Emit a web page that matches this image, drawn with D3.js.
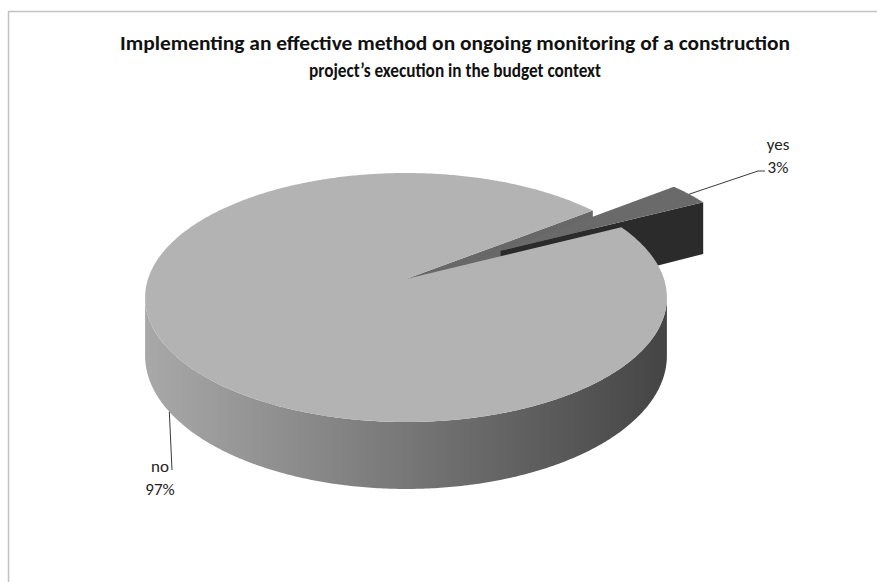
<!DOCTYPE html>
<html>
<head>
<meta charset="utf-8">
<script src="https://cdn.jsdelivr.net/npm/d3@7"></script>
<style>
  html, body { margin: 0; padding: 0; background: #fff; }
  svg { display: block; }
</style>
</head>
<body>
<svg id="chart" width="877" height="582"></svg>
<script>
// Survey answers
const categories = ["yes", "no"];
const values = [3, 97];
const titleLines = [
  "Implementing an effective method on ongoing monitoring of a construction",
  "project\u2019s execution in the budget context"
];

const svg = d3.select("#chart");
const W = 877, H = 582;

// chart frame
svg.append("rect")
  .attr("x", 8.5).attr("y", 11.5)
  .attr("width", W).attr("height", H)
  .attr("fill", "#fff")
  .attr("stroke", "#c2c2c2").attr("stroke-width", 1.5);

// title
const titleFont = "Carlito, Calibri, Lato, 'Liberation Sans', sans-serif";
const titleWidths = [670, 292];
svg.append("g").selectAll("text").data(titleLines).join("text")
  .attr("x", 455)
  .attr("y", (d, i) => 50 + i * 27)
  .attr("text-anchor", "middle")
  .attr("font-family", titleFont)
  .attr("font-weight", "bold")
  .attr("font-size", 19.5)
  .attr("fill", "#111")
  .attr("textLength", (d, i) => titleWidths[i])
  .attr("lengthAdjust", "spacingAndGlyphs")
  .text(d => d);

// ---- 3D pie projection ----
// a unit disc seen in perspective: w grows with depth (Y toward the back)
const cx = 406, cy = 279;
const persp = 0.1486;
const xScale = d3.scaleLinear().domain([-1, 1]).range([cx - 258, cx + 258]);
const yScale = d3.scaleLinear().domain([-1, 1]).range([cy + 121.75, cy - 121.75]);
const thickness = 57;
function proj(X, Y, down) {
  const w = 1 + persp * Y;
  return [xScale(X / w), yScale(Y / w) + (down ? thickness / w : 0)];
}

// d3.pie angles run clockwise from 12 o'clock; convert to math angle (ccw from +X)
const pie = d3.pie().sort(null).value(d => d)
  .startAngle(52.2 * Math.PI / 180)
  .endAngle(52.2 * Math.PI / 180 + 2 * Math.PI);
const arcs = pie(values);
const toMath = a => Math.PI / 2 - a;

const explode = [0.45, 0];
const slices = arcs.map((a, i) => {
  const t0 = toMath(a.endAngle), t1 = toMath(a.startAngle); // t0 < t1
  const mid = (t0 + t1) / 2;
  return {
    name: categories[i], value: values[i], t0, t1, mid,
    ox: explode[i] * Math.cos(mid), oy: explode[i] * Math.sin(mid)
  };
});
const yes = slices[0], no = slices[1];

const line = d3.line();
function rim(s, ta, tb, down, n) {
  const pts = [];
  n = n || Math.max(2, Math.ceil(Math.abs(tb - ta) / 0.01));
  for (let j = 0; j <= n; j++) {
    const t = ta + (tb - ta) * j / n;
    pts.push(proj(s.ox + Math.cos(t), s.oy + Math.sin(t), down));
  }
  return pts;
}
function topFace(s) {
  return line([proj(s.ox, s.oy, false), ...rim(s, s.t0, s.t1, false), proj(s.ox, s.oy, false)]) + "Z";
}
function radialFace(s, t) {
  const a = proj(s.ox, s.oy, false), b = proj(s.ox + Math.cos(t), s.oy + Math.sin(t), false);
  const c = proj(s.ox + Math.cos(t), s.oy + Math.sin(t), true), d = proj(s.ox, s.oy, true);
  return line([a, b, c, d]) + "Z";
}

// side shading
const defs = svg.append("defs");
const grad = defs.append("linearGradient").attr("id", "sideNo")
  .attr("gradientUnits", "userSpaceOnUse")
  .attr("x1", xScale(-1.02)).attr("x2", xScale(1.02)).attr("y1", 0).attr("y2", 0);
grad.selectAll("stop").data([[0, "#a9a9a9"], [0.5, "#777777"], [1, "#444444"]]).join("stop")
  .attr("offset", d => d[0]).attr("stop-color", d => d[1]);

const g = svg.append("g");

// 1. front outer wall of "no" (between the silhouette angles)
const s1 = Math.PI + Math.asin(persp), s2 = 2 * Math.PI - Math.asin(persp);
const wall = [...rim(no, s1, s2, false), ...rim(no, s2, s1, true)];
g.append("path").attr("d", line(wall) + "Z").attr("fill", "url(#sideNo)");

// 2. cut face of "no" left open by the pulled-out slice
g.append("path").attr("d", radialFace(no, no.t0)).attr("fill", "#686868");

// 3. cut face of "yes"
g.append("path").attr("d", radialFace(yes, yes.t0)).attr("fill", "#2b2b2b");

// 4. top of "yes"
g.append("path").attr("d", topFace(yes)).attr("fill", "#6a6a6a");

// 5. top of "no"
g.append("path").attr("d", topFace(no)).attr("fill", "#b3b3b3");

// ---- data labels with leader lines ----
const labelFont = "Carlito, Calibri, Lato, 'Liberation Sans', sans-serif";
const labelPos = { yes: { x: 778, y: 150, end: [765, 171] }, no: { x: 160, y: 472, end: [172, 470] } };

const yesAnchor = proj(yes.ox + Math.cos(yes.mid), yes.oy + Math.sin(yes.mid), false);
const noAnchor = proj(Math.cos(no.mid), Math.sin(no.mid), true);
const leaders = [
  [yesAnchor, [labelPos.yes.end[0] - 7, labelPos.yes.end[1]], labelPos.yes.end],
  [noAnchor, labelPos.no.end]
];
svg.append("g").selectAll("path").data(leaders).join("path")
  .attr("d", d => line(d))
  .attr("fill", "none").attr("stroke", "#3a3a3a").attr("stroke-width", 1);

const lab = svg.append("g").selectAll("text").data(slices).join("text")
  .attr("font-family", labelFont).attr("font-size", 17).attr("fill", "#222")
  .attr("text-anchor", "middle");
lab.append("tspan").attr("x", d => labelPos[d.name].x).attr("y", d => labelPos[d.name].y)
  .text(d => d.name);
lab.append("tspan").attr("x", d => labelPos[d.name].x).attr("y", d => labelPos[d.name].y + 23)
  .text(d => d.value + "%");
</script>
</body>
</html>
